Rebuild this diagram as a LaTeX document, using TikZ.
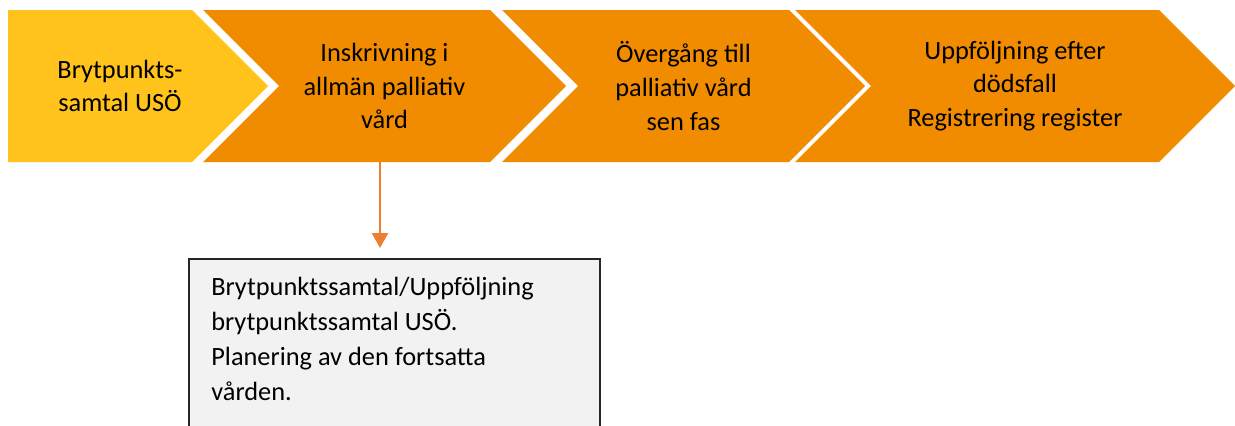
\documentclass[tikz,border=0pt]{standalone}
\usepackage{fontspec}
\setmainfont{Carlito}
\usetikzlibrary{arrows.meta}
\usetikzlibrary{positioning}

\definecolor{stegGul}{HTML}{FFC31B}
\definecolor{stegOrange}{HTML}{F18C00}
\definecolor{pilOrange}{HTML}{ED7D31}
\definecolor{rutaGra}{HTML}{F2F2F2}

\tikzset{
  steptext/.style={align=center, inner sep=0pt, font=\fontsize{15}{19.2}\selectfont},
  plantext/.style={align=flush left, inner sep=0pt, text width=7.4cm,
    font=\fontsize{15}{19.8}\selectfont},
  pil/.style={draw=pilOrange, line width=0.05cm, -{Triangle[length=0.3cm,width=0.32cm]},
    shorten >=0.22cm}
}

\begin{document}
\begin{tikzpicture}[x=0.02cm, y=-0.02cm]
    \useasboundingbox (0,0) rectangle (1235,426);
    \clip (0,0) rectangle (1235,426);

    % first step, no notch
    \fill[stegGul] (8,10) -- (192,10) -- (268,86) -- (192,162) -- (8,162) -- cycle;
    % the other steps
    \foreach \l/\r in {203/490, 502/789, 795/1159}
        \fill[stegOrange] (\l,10) -- (\r,10) -- (\r+76,86) -- (\r,162) -- (\l,162) -- (\l+76,86) -- cycle;

    \node[steptext] (brytpunkt) at (120,86) {Brytpunkts-\\samtal USÖ};
    \node[steptext] (inskrivning) at (384.5,86) {Inskrivning i\\allmän palliativ\\vård};
    \node[steptext] (overgang) at (683.5,86) {Övergång till\\palliativ vård\\sen fas};
    \node[steptext] (uppfoljning) at (1015,86) {Uppföljning efter\\dödsfall\\Registrering register};

    % box below, cut off at the bottom edge
    \coordinate (rutatopp) at (189,259);
    \filldraw[draw=black!85, fill=rutaGra, line width=0.04cm]
        (189,440) -- (rutatopp) -- (600,259) -- (600,440);
    \node[plantext, anchor=north west] (planering) at (211,277)
        {Brytpunktssamtal/Uppföljning\\brytpunktssamtal USÖ.\\Planering av den fortsatta\\vården.};

    \coordinate (pilstart) at (380,162);
    \draw[pil] (pilstart) -- (pilstart |- rutatopp);
\end{tikzpicture}
\end{document}
